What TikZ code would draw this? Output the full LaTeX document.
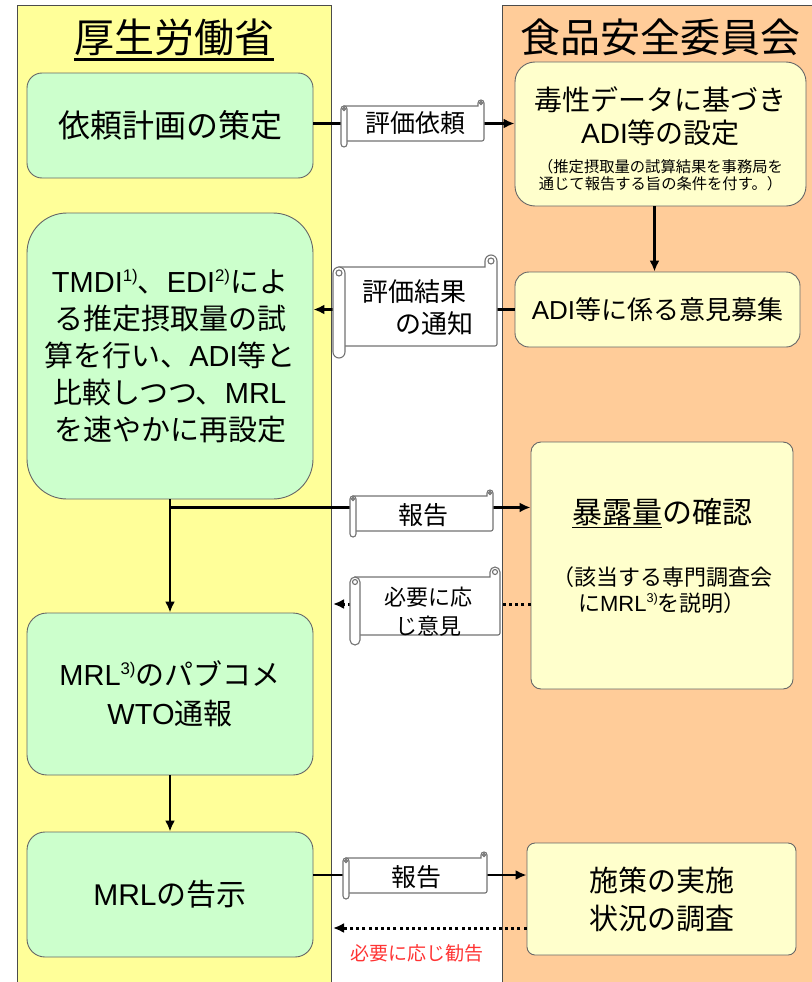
\documentclass[tikz,border=0pt]{standalone}
\usepackage{fontspec}
\setmainfont{Noto Sans CJK JP}
\newfontfamily\latf{Liberation Sans}
\usetikzlibrary{arrows.meta,calc}
\definecolor{colY}{HTML}{FFFF99}
\definecolor{colO}{HTML}{FFCC99}
\definecolor{colG}{HTML}{CCFFCC}
\definecolor{colP}{HTML}{FFFFCC}
\definecolor{colR}{HTML}{FF3333}
\newcommand\latn[1]{{\latf #1}}
\newcommand\supr[1]{\raisebox{0.4em}{\scalebox{0.58}{\latn{#1}}}}
\newcommand\scrollshape[5]{%
 \pgfmathsetmacro\scA{#1}\pgfmathsetmacro\scB{#2}\pgfmathsetmacro\scC{#3}\pgfmathsetmacro\scD{#4}%
 \pgfmathsetmacro\scS{#5}\pgfmathsetmacro\scH{#5/2}\pgfmathsetmacro\scQ{#5/4}%
 \draw[scrl] ({\scA+\scH},{\scB+\scS}) -- ({\scC-\scS},{\scB+\scS}) -- ({\scC-\scS},{\scB+\scH})
   arc[start angle=180,end angle=0,radius=\scH pt] -- ({\scC},{\scD-\scS-2})
   arc[start angle=0,end angle=-90,radius=2pt] -- ({\scA+\scH},{\scD-\scS}) -- cycle;
 \draw[scrl] ({\scC-\scH},{\scB+\scH}) circle[radius=\scQ pt];
 \draw[scrl] (\scA,{\scB+\scS+\scH}) arc[start angle=180,end angle=0,radius=\scH pt]
   -- ({\scA+\scS},{\scD-\scH}) arc[start angle=0,end angle=-180,radius=\scH pt] -- cycle;
 \draw[scrl] ({\scA+\scH},{\scB+\scS+\scH}) circle[radius=\scQ pt];
}
\tikzset{
  scrl/.style={draw=black!55, fill=white, line width=1.1pt},
  colbox/.style={draw=black!70, line width=1pt},
  title/.style={inner sep=0pt, font=\fontsize{40}{46}\selectfont},
  gbox/.style={draw=black!60, fill=colG, line width=0.9pt, inner sep=0pt, align=center, minimum width=286pt},
  ybox/.style={draw=black!60, fill=colP, line width=0.9pt, inner sep=0pt, align=center},
  stext/.style={inner sep=0pt, align=center},
  arr/.style={line width=2.8pt, -{Latex[length=11pt,width=10pt]}},
  darr/.style={line width=3pt, dash pattern=on 3pt off 3.2pt, -{Latex[length=11pt,width=10pt]}},
}
\begin{document}
\begin{tikzpicture}[x=1pt,y=-1pt]
\useasboundingbox (0,0) rectangle (811,982);
% columns
\path[colbox, fill=colY] (17,6) rectangle (331,990);
\path[colbox, fill=colO] (502,6) rectangle (830,990);
% titles
\node[title] (tL) at (174,37) {厚生労働省};
\draw[line width=3pt] ([yshift=-7pt]tL.base west) -- ([yshift=-7pt]tL.base east);
\node[title] (tR) at (660,37) {食品安全委員会};
% left boxes
\node[gbox, minimum height=105pt, rounded corners=15pt, font=\fontsize{32}{38}\selectfont] (req) at (170,125.5) {依頼計画の策定};
\node[gbox, minimum height=286pt, rounded corners=40pt, font=\fontsize{29}{37}\selectfont] (tmdi) at (170,356)
  {\latn{TMDI}\supr{1)}、\latn{EDI}\supr{2)}によ\\る推定摂取量の試\\算を行い、\latn{ADI}等と\\比較しつつ、\latn{MRL}\\を速やかに再設定};
\node[gbox, minimum height=162pt, rounded corners=20pt, font=\fontsize{29}{39}\selectfont] (pub) at (170,694)
  {\latn{MRL}\supr{3)}のパブコメ\\\latn{WTO}通報};
\node[gbox, minimum height=125pt, rounded corners=18pt, font=\fontsize{30}{36}\selectfont] (notice) at (170,894.5)
  {\latn{MRL}の告示};
% right boxes
\node[ybox, minimum width=291pt, minimum height=144pt, rounded corners=20pt] (tox) at (660.5,134) {};
\node[stext, font=\fontsize{28}{33}\selectfont] (toxt) at (660.5,116) {毒性データに基づき\\\latn{ADI}等の設定};
\node[stext, font=\fontsize{15.3}{16.5}\selectfont] (toxs) at (660.5,175) {（推定摂取量の試算結果を事務局を\\通じて報告する旨の条件を付す。）};
\node[ybox, minimum width=285pt, minimum height=75pt, rounded corners=14pt, font=\fontsize{26}{30}\selectfont] (adi) at (657.5,309.5)
  {\latn{ADI}等に係る意見募集};
\node[ybox, minimum width=262pt, minimum height=247pt, rounded corners=10pt] (expo) at (662,565.5) {};
\node[stext, font=\fontsize{30}{36}\selectfont] (expot) at (662,513) {\underline{暴露量}の確認};
\node[stext, font=\fontsize{22}{26}\selectfont] (expos) at (662,590) {（該当する専門調査会\\に\latn{MRL}\supr{3)}を説明）};
\node[ybox, minimum width=269pt, minimum height=112pt, rounded corners=8pt, font=\fontsize{29}{38}\selectfont] (survey) at (661.5,899)
  {施策の実施\\状況の調査};
% connectors
\coordinate (br) at ($(tmdi.south)+(0,8)$);
\coordinate (d1) at (333,604);
\coordinate (d2) at (333,928);
\draw[arr] ([yshift=2pt]req.east) -- ([yshift=2pt]req.east -| tox.west);
\draw[arr] ([xshift=-6pt]tox.south) -- ([xshift=-6pt]tox.south |- adi.north);
\draw[arr] (adi.west) -- (adi.west -| tmdi.east);
\draw[arr] (tmdi.south) -- (pub.north);
\draw[arr] (br) -- (br -| expo.west);
\draw[darr] (d1 -| expo.west) -- (d1);
\draw[arr] (pub.south) -- (notice.north);
\draw[arr] ([yshift=19.5pt]notice.east) -- ([yshift=19.5pt]notice.east -| survey.west);
\draw[darr] (d2 -| survey.west) -- (d2);
% scrolls
\scrollshape{341}{100}{484}{147}{6}
\node[stext, font=\fontsize{25}{30}\selectfont] (sc1) at (415,123.5) {評価依頼};
\scrollshape{333}{255}{497}{358}{12}
\node[stext, align=left, font=\fontsize{26}{32}\selectfont] (sc2) at (418,308) {評価結果\\\hspace*{1.3em}の通知};
\scrollshape{350}{490}{493}{537}{6}
\node[stext, font=\fontsize{25}{30}\selectfont] (sc3) at (423,515) {報告};
\scrollshape{350}{567}{500}{645}{10}
\node[stext, font=\fontsize{22}{29}\selectfont] (sc4) at (428,612) {必要に応\\じ意見};
\scrollshape{343}{852}{487}{899}{6}
\node[stext, font=\fontsize{25}{30}\selectfont] (sc5) at (416,877) {報告};
\node[stext, text=colR, font=\fontsize{19}{22}\selectfont] (rec) at (417,953) {必要に応じ勧告};
\end{tikzpicture}
\end{document}
